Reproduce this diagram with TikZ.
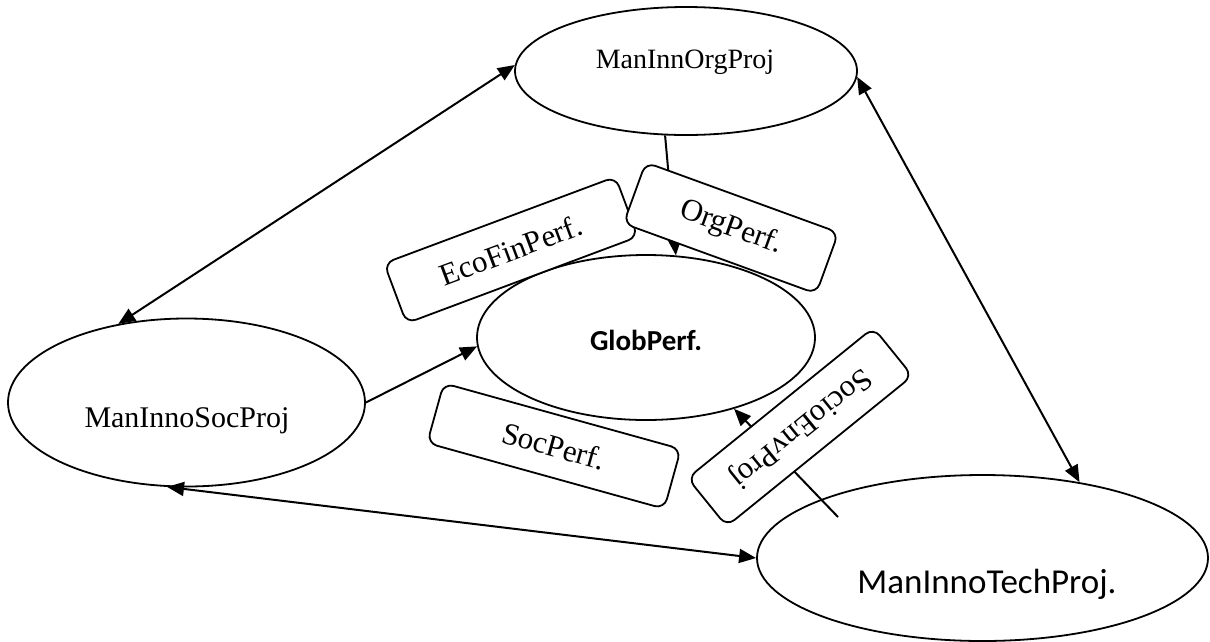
\documentclass[tikz,border=0pt]{standalone}
\usepackage{fontspec}
\setmainfont{Liberation Serif}
\newfontfamily\calibri{Carlito}
\usetikzlibrary{arrows.meta,shapes.geometric}
\begin{document}
\begin{tikzpicture}[x=1pt,y=-1pt,
  line width=1.8pt,
  >={Triangle[length=17pt,width=14pt]},
  ell/.style={draw,ellipse,inner sep=0pt,line width=1.8pt},
  lbl/.style={draw,fill=white,rounded corners=10pt,inner sep=0pt,line width=1.8pt,font=\fontsize{31}{31}\selectfont},
  etxt/.style={anchor=base,inner sep=0pt},
  conn/.style={line width=2pt}]
\useasboundingbox (0,0) rectangle (1210,641);
% ellipses
\node[ell,minimum width=342pt,minimum height=128pt] (org) at (686,71) {};
\node[ell,minimum width=357pt,minimum height=168pt] (soc) at (186.5,402.5) {};
\node[ell,minimum width=451pt,minimum height=166pt] (tech) at (982.5,558) {};
\node[ell,minimum width=338pt,minimum height=165pt] (glob) at (646,337.5) {};
% ellipse texts
\node[etxt,font=\fontsize{28}{28}\selectfont] (orgt) at (685,68) {ManInnOrgProj};
\node[etxt,font=\fontsize{30}{30}\selectfont] (soct) at (187,427) {ManInnoSocProj};
\node[etxt,font=\calibri\fontsize{35}{35}\selectfont] (techt) at (987,593) {ManInnoTechProj.};
\node[etxt,font=\calibri\bfseries\fontsize{29}{29}\selectfont] (globt) at (646,350) {GlobPerf.};
% connectors
\coordinate (techin) at (838,517);
\draw[conn,<->] (org.178) -- (soc.131);
\draw[conn,<->] (org.358) -- (tech.38);
\draw[conn,<->] (soc.257) -- (tech.180);
\draw[conn,->] (soc.east) -- (glob.183);
\draw[conn,->] (org.252) -- (glob.70);
\draw[conn,->] (techin) -- (glob.321);
% label boxes
\node[lbl,minimum width=247pt,minimum height=64pt,rotate=20.5] (eco) at (511,250) {EcoFinPerf.};
\node[lbl,minimum width=205pt,minimum height=65pt,rotate=-20] (orgp) at (731,228) {OrgPerf.};
\node[lbl,minimum width=246pt,minimum height=62pt,rotate=-15.5] (socp) at (554,446) {SocPerf.};
\node[lbl,minimum width=239pt,minimum height=62pt,rotate=219] (senv) at (800,427) {SocioEnvProj};
\end{tikzpicture}
\end{document}
